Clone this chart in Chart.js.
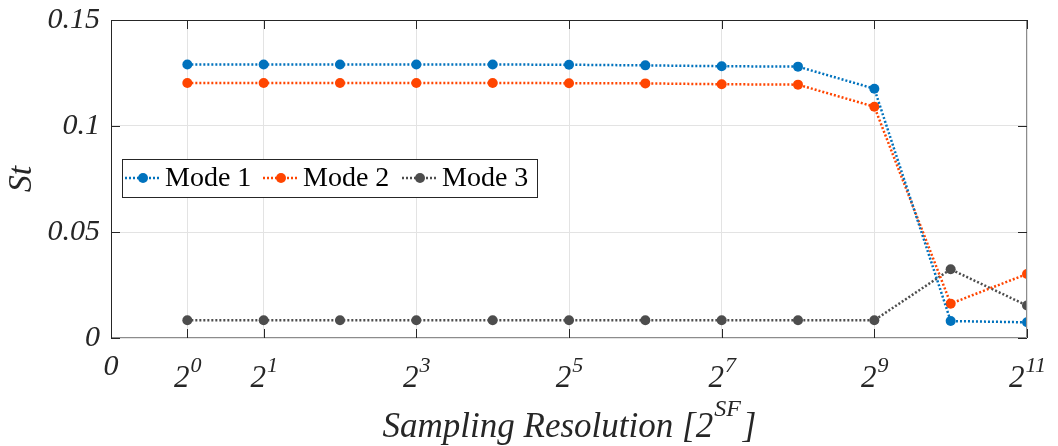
<!DOCTYPE html>
<html>
<head>
<meta charset="utf-8">
<script src="https://cdn.jsdelivr.net/npm/chart.js@4"></script>
<style>
  body { margin: 0; background: #fff; }
  canvas { display: block; }
</style>
</head>
<body>
<canvas id="chart" width="1058" height="446"></canvas>
<script>
// posicion en el eje x (1 = 2^0 ... 12 = 2^11)
const posiciones = [1, 2, 3, 4, 5, 6, 7, 8, 9, 10, 11, 12];
const modo1 = [0.1290, 0.1290, 0.1290, 0.1290, 0.1290, 0.1289, 0.1286, 0.1282, 0.1280, 0.1176, 0.0080, 0.0074];
const modo2 = [0.1203, 0.1203, 0.1203, 0.1203, 0.1203, 0.1202, 0.1201, 0.1197, 0.1195, 0.1091, 0.0162, 0.0302];
const modo3 = [0.0084, 0.0084, 0.0084, 0.0084, 0.0084, 0.0084, 0.0084, 0.0084, 0.0084, 0.0084, 0.0324, 0.0153];
const nombresModos = ["Mode 1", "Mode 2", "Mode 3"];
const coloresModos = ["#0072BD", "#FF4500", "#4D4D4D"];

const ticksX = [0, 1, 2, 4, 6, 8, 10, 12];
const baseTicksX = ["0", "2", "2", "2", "2", "2", "2", "2"];
const expTicksX = ["", "0", "1", "3", "5", "7", "9", "11"];
const ticksY = [0, 0.05, 0.1, 0.15];

const serif = '"Liberation Serif", "Times New Roman", serif';

function serie(valores, i) {
    return {
        label: nombresModos[i],
        data: posiciones.map((x, k) => ({ x: x, y: valores[k] })),
        borderColor: coloresModos[i],
        backgroundColor: coloresModos[i],
        borderWidth: 2.5,
        borderDash: [2, 2],
        pointRadius: 5,
        pointBorderWidth: 0,
        pointHoverRadius: 5,
        tension: 0
    };
}

// ejes, marcas interiores, etiquetas con exponente y leyenda
const dibujoExtra = {
    id: "dibujoExtra",
    afterDraw(chart) {
        const ctx = chart.ctx;
        const area = chart.chartArea;
        const sx = chart.scales.x;
        const sy = chart.scales.y;
        ctx.save();

        // caja
        ctx.lineWidth = 1;
        ctx.strokeStyle = "#262626";
        ctx.beginPath();
        ctx.moveTo(area.left + 0.5, area.bottom);
        ctx.lineTo(area.left + 0.5, area.top + 0.5);
        ctx.lineTo(area.right, area.top + 0.5);
        ctx.stroke();
        ctx.strokeStyle = "#8c8c8c";
        ctx.beginPath();
        ctx.moveTo(area.left, area.bottom - 0.5);
        ctx.lineTo(area.right - 0.5, area.bottom - 0.5);
        ctx.lineTo(area.right - 0.5, area.top);
        ctx.stroke();

        // marcas
        ctx.strokeStyle = "#262626";
        ctx.beginPath();
        ticksX.forEach(v => {
            const px = Math.round(sx.getPixelForValue(v)) + 0.5;
            ctx.moveTo(px, area.bottom); ctx.lineTo(px, area.bottom - 9);
            ctx.moveTo(px, area.top); ctx.lineTo(px, area.top + 9);
        });
        ticksY.forEach(v => {
            const py = Math.round(sy.getPixelForValue(v)) + 0.5;
            ctx.moveTo(area.left, py); ctx.lineTo(area.left + 9, py);
            ctx.moveTo(area.right, py); ctx.lineTo(area.right - 9, py);
        });
        ctx.stroke();

        // etiquetas eje x
        ctx.fillStyle = "#262626";
        ctx.textBaseline = "alphabetic";
        ctx.textAlign = "left";
        ticksX.forEach((v, i) => {
            const px = sx.getPixelForValue(v);
            if (expTicksX[i] === "") {
                ctx.font = "italic 30px " + serif;
                const w = ctx.measureText(baseTicksX[i]).width;
                ctx.fillText(baseTicksX[i], px - w / 2, 375);
                return;
            }
            ctx.font = "italic 31px " + serif;
            const wb = ctx.measureText(baseTicksX[i]).width;
            ctx.font = "italic 22px " + serif;
            const we = ctx.measureText(expTicksX[i]).width;
            const x0 = px - (wb + we) / 2;
            ctx.font = "italic 31px " + serif;
            ctx.fillText(baseTicksX[i], x0, 387);
            ctx.font = "italic 22px " + serif;
            ctx.fillText(expTicksX[i], x0 + wb + 1, 372);
        });

        // titulo eje x
        const t1 = "Sampling Resolution [2";
        const t2 = "SF";
        const t3 = "]";
        ctx.font = "italic 35px " + serif;
        const w1 = ctx.measureText(t1).width;
        const w3 = ctx.measureText(t3).width;
        ctx.font = "italic 24px " + serif;
        const w2 = ctx.measureText(t2).width;
        let xt = (area.left + area.right) / 2 - (w1 + w2 + w3 + 2) / 2;
        ctx.font = "italic 35px " + serif;
        ctx.fillText(t1, xt, 437);
        ctx.font = "italic 24px " + serif;
        ctx.fillText(t2, xt + w1 + 1, 416);
        ctx.font = "italic 35px " + serif;
        ctx.fillText(t3, xt + w1 + w2 + 3, 437);

        // leyenda
        const lx = 122, ly = 159, lw = 415, lh = 38;
        ctx.fillStyle = "#fff";
        ctx.fillRect(lx, ly, lw, lh);
        ctx.strokeStyle = "#262626";
        ctx.lineWidth = 1;
        ctx.strokeRect(lx + 0.5, ly + 0.5, lw, lh);
        const inicios = [125, 263, 402];
        const cy = ly + lh / 2;
        nombresModos.forEach((nombre, i) => {
            const x0 = inicios[i];
            ctx.strokeStyle = coloresModos[i];
            ctx.lineWidth = 2.5;
            ctx.setLineDash([2, 2]);
            ctx.beginPath();
            ctx.moveTo(x0, cy); ctx.lineTo(x0 + 36, cy);
            ctx.stroke();
            ctx.setLineDash([]);
            ctx.fillStyle = coloresModos[i];
            ctx.beginPath();
            ctx.arc(x0 + 18, cy, 5, 0, Math.PI * 2);
            ctx.fill();
            ctx.fillStyle = "#000";
            ctx.font = "28px " + serif;
            ctx.textBaseline = "middle";
            ctx.fillText(nombre, x0 + 40, cy + 1);
        });
        ctx.restore();
    }
};

const grafico = new Chart(document.getElementById("chart").getContext("2d"), {
    type: "line",
    data: {
        datasets: [serie(modo1, 0), serie(modo2, 1), serie(modo3, 2)]
    },
    options: {
        responsive: false,
        animation: false,
        layout: { padding: { top: 20, right: 31, left: 0, bottom: 0 } },
        plugins: { legend: { display: false }, tooltip: { enabled: false } },
        scales: {
            x: {
                type: "linear",
                min: 0,
                max: 12,
                afterBuildTicks: s => { s.ticks = ticksX.map(v => ({ value: v })); },
                afterFit: s => { s.height = 108; s.paddingLeft = 0; s.paddingRight = 0; },
                ticks: { display: false },
                grid: { color: "#e3e3e3", drawTicks: false },
                border: { display: false }
            },
            y: {
                min: 0,
                max: 0.15,
                afterBuildTicks: s => { s.ticks = ticksY.map(v => ({ value: v })); },
                afterFit: s => { s.width = 111; s.paddingTop = 0; s.paddingBottom = 0; },
                ticks: {
                    padding: 11,
                    color: "#262626",
                    font: { family: serif, size: 30, style: "italic" },
                    callback: v => String(Math.round(v * 100) / 100)
                },
                grid: { color: "#e3e3e3", drawTicks: false },
                border: { display: false },
                title: {
                    display: true,
                    text: "St",
                    color: "#262626",
                    padding: { top: 2, bottom: 0 },
                    font: { family: serif, size: 34, style: "italic" }
                }
            }
        }
    },
    plugins: [dibujoExtra]
});
</script>
</body>
</html>
